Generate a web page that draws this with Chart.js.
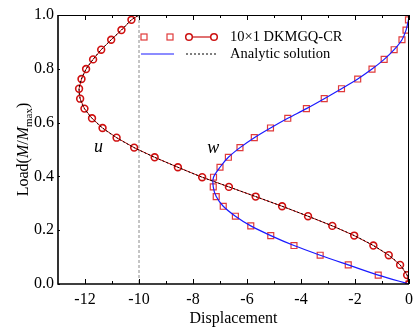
<!DOCTYPE html>
<html>
<head>
<meta charset="utf-8">
<script src="https://cdn.jsdelivr.net/npm/chart.js@4/dist/chart.umd.min.js"></script>
<style>
  html, body { margin: 0; padding: 0; background: #fff; }
  #wrap { width: 419px; height: 331px; position: relative; }
</style>
</head>
<body>
<div id="wrap"><canvas id="chart"></canvas></div>
<script>
// load levels shared by both FE series (M/Mmax)
const loadLevels = [0, 0.033, 0.071, 0.107, 0.143, 0.180, 0.216, 0.252, 0.289, 0.325,
  0.361, 0.397, 0.434, 0.471, 0.507, 0.544, 0.580, 0.616, 0.652, 0.689,
  0.726, 0.762, 0.799, 0.835, 0.871, 0.908, 0.944, 0.982];

// 10x1 DKMGQ-CR results
const uDisp = [0, -0.07, -0.33, -0.75, -1.32, -2.03, -2.84, -3.74, -4.70, -5.68,
  -6.67, -7.66, -8.56, -9.42, -10.18, -10.83, -11.35, -11.74, -12.02, -12.18,
  -12.22, -12.13, -11.96, -11.70, -11.40, -11.03, -10.65, -10.28];
const wDisp = [0, -1.14, -2.25, -3.29, -4.26, -5.12, -5.86, -6.43, -6.88, -7.14,
  -7.25, -7.24, -7.00, -6.69, -6.26, -5.73, -5.13, -4.49, -3.80, -3.14,
  -2.50, -1.90, -1.37, -0.92, -0.55, -0.26, -0.11, -0.02];

// analytic end values at full load
const topLoad = 1.0;
const uTop = -10.0;
const wTop = 0.0;

const refLineX = -10;
const xTicks = [-12, -10, -8, -6, -4, -2, 0];
const yTicks = [0, 0.2, 0.4, 0.6, 0.8, 1.0];

const serif = "'Liberation Serif', 'Times New Roman', serif";

const pts = (xs, ys) => xs.map((x, i) => ({ x: x, y: ys[i] }));
const uPts = pts(uDisp, loadLevels);
const wPts = pts(wDisp, loadLevels);
const uLine = uPts.concat([{ x: uTop, y: topLoad }]);
const wLine = wPts.concat([{ x: wTop, y: topLoad }]);

const frame = {
  id: "frame",
  beforeDatasetsDraw(chart) {
    const { ctx, chartArea: a, scales: { x } } = chart;
    const px = x.getPixelForValue(refLineX);
    ctx.save();
    ctx.strokeStyle = "#8a8a8a";
    ctx.lineWidth = 1;
    ctx.setLineDash([3, 2]);
    ctx.beginPath();
    ctx.moveTo(px, a.top);
    ctx.lineTo(px, a.bottom);
    ctx.stroke();
    ctx.restore();
  },
  afterDatasetsDraw(chart) {
    const { ctx, chartArea: a, scales: { x, y } } = chart;
    ctx.save();
    ctx.strokeStyle = "#000";
    ctx.lineWidth = 1;
    ctx.beginPath();
    ctx.moveTo(a.left, a.top + 0.5);
    ctx.lineTo(a.right, a.top + 0.5);
    ctx.moveTo(a.right - 0.5, a.top);
    ctx.lineTo(a.right - 0.5, a.bottom);
    ctx.stroke();
    ctx.lineWidth = 1.6;
    ctx.beginPath();
    ctx.moveTo(a.left, a.top);
    ctx.lineTo(a.left, a.bottom);
    ctx.lineTo(a.right, a.bottom);
    ctx.stroke();

    // inward ticks, majors and minors on bottom and top
    ctx.lineWidth = 1;
    ctx.beginPath();
    for (let v = x.min + 1; v <= x.max; v += 1) {
      const p = Math.round(x.getPixelForValue(v)) + 0.5;
      const len = xTicks.includes(v) ? 5 : 3;
      ctx.moveTo(p, a.bottom);
      ctx.lineTo(p, a.bottom - len);
      ctx.moveTo(p, a.top);
      ctx.lineTo(p, a.top + len);
    }
    yTicks.forEach((v) => {
      const p = Math.round(y.getPixelForValue(v)) + 0.5;
      ctx.moveTo(a.left, p);
      ctx.lineTo(a.left + 2, p);
    });
    ctx.stroke();

    // curve labels
    ctx.fillStyle = "#000";
    ctx.font = "italic 18px " + serif;
    ctx.textAlign = "center";
    ctx.textBaseline = "middle";
    ctx.fillText("u", x.getPixelForValue(-11.5), y.getPixelForValue(0.51));
    ctx.fillText("w", x.getPixelForValue(-7.25), y.getPixelForValue(0.505));

    // legend
    const lx = a.left + 86;
    const r1 = a.top + 22;
    const r2 = a.top + 39;
    ctx.strokeStyle = "#e03a3a";
    ctx.lineWidth = 1.2;
    [lx, lx + 26].forEach((sx) => ctx.strokeRect(sx - 3, r1 - 3, 6, 6));
    ctx.strokeStyle = "#cc1111";
    ctx.beginPath();
    ctx.moveTo(lx + 45, r1);
    ctx.lineTo(lx + 70, r1);
    ctx.stroke();
    ctx.lineWidth = 1.5;
    [lx + 45, lx + 70].forEach((cx) => {
      ctx.beginPath();
      ctx.arc(cx, r1, 3.3, 0, Math.PI * 2);
      ctx.fillStyle = "#fff";
      ctx.fill();
      ctx.stroke();
    });
    ctx.strokeStyle = "#1a1aff";
    ctx.lineWidth = 1.2;
    ctx.beginPath();
    ctx.moveTo(lx - 3, r2);
    ctx.lineTo(lx + 30, r2);
    ctx.stroke();
    ctx.strokeStyle = "#000";
    ctx.lineWidth = 1;
    ctx.setLineDash([2, 2]);
    ctx.beginPath();
    ctx.moveTo(lx + 42, r2);
    ctx.lineTo(lx + 73, r2);
    ctx.stroke();
    ctx.setLineDash([]);
    ctx.fillStyle = "#000";
    ctx.font = "14.5px " + serif;
    ctx.textAlign = "left";
    ctx.fillText("10×1 DKMGQ-CR", lx + 86, r1);
    ctx.fillText("Analytic solution", lx + 86, r2);

    // y axis title: Load(M/Mmax)
    const parts = [
      ["Load(", "16px " + serif, 0],
      ["M", "italic 16px " + serif, 0],
      ["/", "16px " + serif, 0],
      ["M", "italic 16px " + serif, 0],
      ["max", "11px " + serif, 4],
      [")", "16px " + serif, 0],
    ];
    let total = 0;
    parts.forEach((p) => { ctx.font = p[1]; total += ctx.measureText(p[0]).width; });
    ctx.translate(28, (a.top + a.bottom) / 2);
    ctx.rotate(-Math.PI / 2);
    ctx.textBaseline = "alphabetic";
    let cx = -total / 2;
    parts.forEach((p) => {
      ctx.font = p[1];
      ctx.fillText(p[0], cx, p[2]);
      cx += ctx.measureText(p[0]).width;
    });
    ctx.restore();
  },
};

new Chart(document.getElementById("chart"), {
  type: "scatter",
  data: {
    datasets: [
      {
        label: "Analytic u",
        data: uLine,
        showLine: true,
        borderColor: "#000",
        borderWidth: 1,
        borderDash: [2, 2],
        pointRadius: 0,
        tension: 0.3,
        clip: 0,
      },
      {
        label: "Analytic w",
        data: wLine,
        showLine: true,
        borderColor: "#1a1aff",
        borderWidth: 1.2,
        pointRadius: 0,
        tension: 0.3,
        clip: 0,
      },
      {
        label: "10x1 DKMGQ-CR u",
        data: uLine,
        showLine: true,
        borderColor: "#cc1111",
        borderWidth: 1,
        pointStyle: "circle",
        pointRadius: (c) => (c.dataIndex < uPts.length ? 3.4 : 0),
        pointBorderWidth: 1.6,
        pointBorderColor: "#d01010",
        pointBackgroundColor: "rgba(0,0,0,0)",
        tension: 0,
        clip: 0,
      },
      {
        label: "10x1 DKMGQ-CR w",
        data: wPts,
        showLine: false,
        pointStyle: "rect",
        pointRadius: 4.2,
        pointBorderWidth: 1.2,
        pointBorderColor: "#e03a3a",
        pointBackgroundColor: "rgba(0,0,0,0)",
        clip: 0,
      },
    ],
  },
  plugins: [frame],
  options: {
    responsive: true,
    maintainAspectRatio: false,
    animation: false,
    layout: { padding: { top: 15, right: 7, left: 0, bottom: 0 } },
    plugins: {
      legend: { display: false },
      tooltip: { enabled: false },
    },
    scales: {
      x: {
        type: "linear",
        min: -13,
        max: 0,
        afterFit(s) { s.height = 47; },
        afterBuildTicks(s) { s.ticks = xTicks.map((v) => ({ value: v })); },
        grid: { display: false, drawTicks: false },
        border: { display: false },
        ticks: {
          color: "#000",
          padding: 6,
          font: { family: serif, size: 16 },
          maxRotation: 0,
          callback: (v) => String(v),
        },
        title: {
          display: true,
          text: "Displacement",
          color: "#000",
          font: { family: serif, size: 16 },
          padding: { top: 0, bottom: 3 },
        },
      },
      y: {
        type: "linear",
        min: 0,
        max: 1,
        afterFit(s) { s.width = 58; },
        afterBuildTicks(s) { s.ticks = yTicks.map((v) => ({ value: v })); },
        grid: { display: false, drawTicks: false },
        border: { display: false },
        ticks: {
          color: "#000",
          padding: 4,
          font: { family: serif, size: 16 },
          callback: (v) => v.toFixed(1),
        },
      },
    },
  },
});
</script>
</body>
</html>
